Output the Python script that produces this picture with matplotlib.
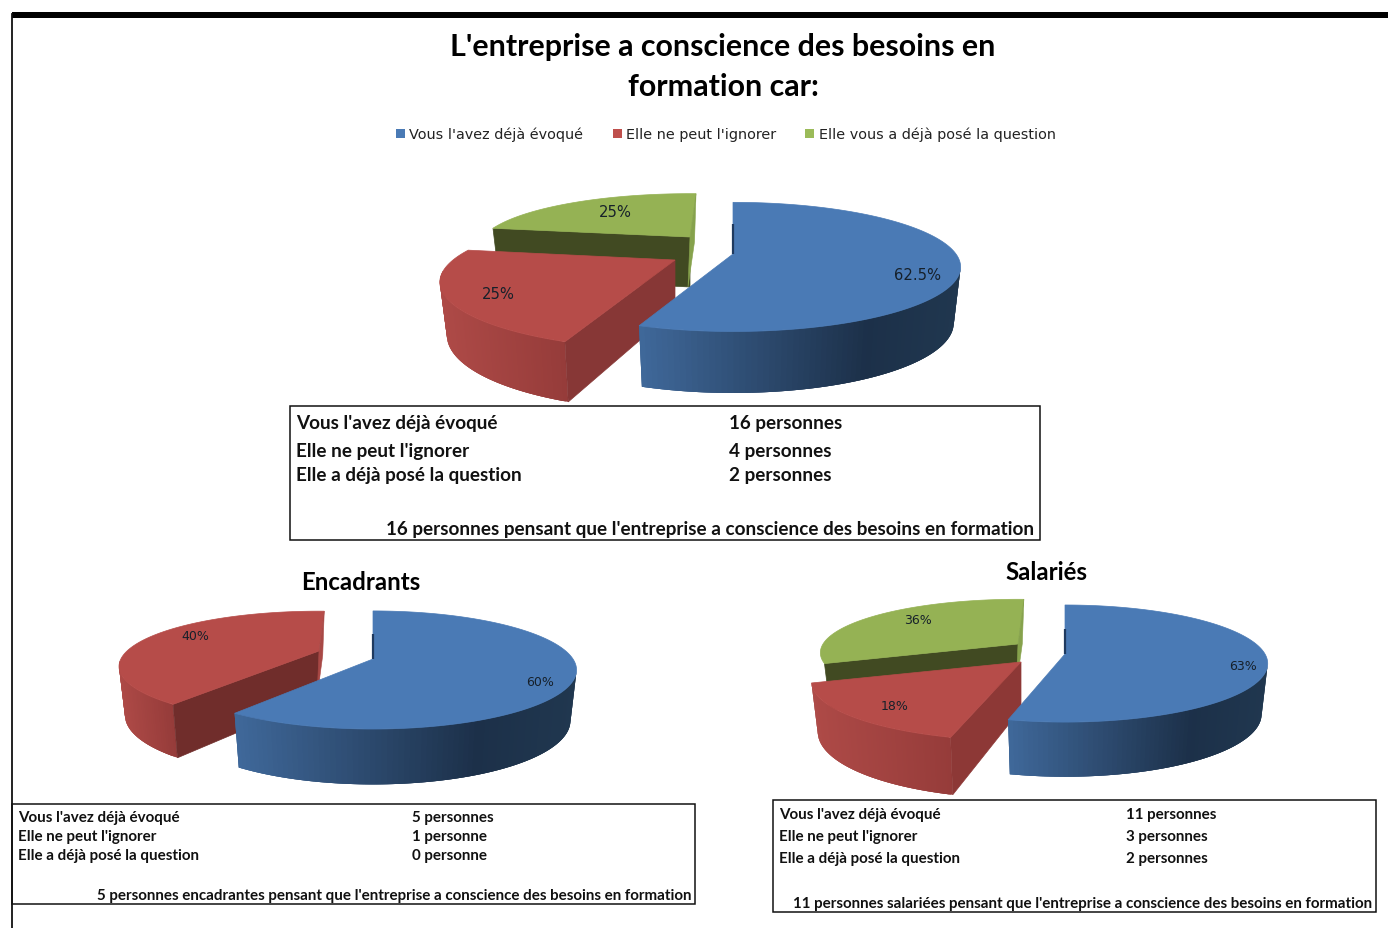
import numpy as np
import matplotlib
matplotlib.use("Agg")
import matplotlib.pyplot as plt
from matplotlib.patches import Polygon, Rectangle
from matplotlib.colors import to_rgb

# --- data
title_lines = ["L'entreprise a conscience des besoins en", "formation car:"]
legend_names = ["Vous l'avez déjà évoqué", "Elle ne peut l'ignorer", "Elle vous a déjà posé la question"]

total_values = [62.5, 25, 25]
total_labels = ["62.5%", "25%", "25%"]
cadres_values = [60, 40]
cadres_labels = ["60%", "40%"]
salaries_values = [63, 18, 36]
salaries_labels = ["63%", "18%", "36%"]

row_names = ["Vous l'avez déjà évoqué", "Elle ne peut l'ignorer", "Elle a déjà posé la question"]
total_counts = ["16 personnes", "4 personnes", "2 personnes"]
cadres_counts = ["5 personnes", "1 personne", "0 personne"]
salaries_counts = ["11 personnes", "3 personnes", "2 personnes"]
total_note = "16 personnes pensant que l'entreprise a conscience des besoins en formation"
cadres_note = "5 personnes encadrantes pensant que l'entreprise a conscience des besoins en formation"
salaries_note = "11 personnes salariées pensant que l'entreprise a conscience des besoins en formation"

# --- colours
BLUE, RED, GREEN = "#4a7ab5", "#b64c49", "#95b254"
SWATCH = [BLUE, "#bf4f4c", "#9bbb59"]
BLUE_WALL = [(0, "#40699b"), (0.72, "#1c3049"), (1, "#20374f")]
RED_WALL = [(0, "#ae4a47"), (1, "#963c3a")]

HEAD = "Lato"
BODY = "DejaVu Sans"

fig = plt.figure(figsize=(13.88, 9.29), dpi=100)
ax = fig.add_axes([0, 0, 1, 1])
ax.set_xlim(0, 1388)
ax.set_ylim(929, 0)
ax.axis("off")


def ramp(stops, f):
    xs = [s[0] for s in stops]
    cols = np.array([to_rgb(s[1]) for s in stops])
    return [np.interp(f, xs, cols[:, i]) for i in range(3)]


def project(t, r, sl, z=0.0):
    # t is the angle clockwise from 12 o'clock, in degrees
    u = r * np.sin(np.radians(t))
    v = r * np.cos(np.radians(t))
    w = 1 + sl["k"] * v
    x = sl["x"] + sl["rx"] * u / w
    y = sl["y"] - sl["ry"] * v / w
    if z:
        x = x - (x - sl["x"]) * sl.get("taper", 0.03)
        y = y + sl["d"] * np.sqrt(1 / w)
    return x, y


def draw_slice(sl, t0, t1):
    ts = np.linspace(t0, t1, 160)
    # outer wall, only the part that faces us. quads overlap the next one so no seams show
    vis = ts[(ts > 100) & (ts < 260)]
    if len(vis) > 1 and "wall" in sl:
        xs = project(vis, 1, sl)[0]
        lo, hi = xs.min(), xs.max()
        for i in range(len(vis) - 1):
            a, b = vis[i], vis[min(i + 3, len(vis) - 1)]
            xa, ya = project(a, 1, sl)
            xb, yb = project(b, 1, sl)
            xc, yc = project(b, 1, sl, 1)
            xd, yd = project(a, 1, sl, 1)
            f = (xa - lo) / (hi - lo)
            c = ramp(sl["wall"], f)
            ax.add_patch(Polygon([(xa, ya), (xb, yb), (xc, yc), (xd, yd)], closed=True,
                                 facecolor=c, edgecolor="none", lw=0))
    # the flat cut face
    col = sl.get("cut_start")
    if col is not None:
        pts = [project(t0, 1, sl), project(t0, 0, sl), project(t0, 0, sl, 1), project(t0, 1, sl, 1)]
        ax.add_patch(Polygon(pts, closed=True, facecolor=col, edgecolor=col, lw=0.5))
    # top face
    top = [project(t, 1, sl) for t in ts] + [project(0, 0, sl)]
    ax.add_patch(Polygon(top, closed=True, facecolor=sl["top"], edgecolor=sl["top"], lw=0.5))
    if "sliver" in sl:
        # thin face standing on the 12 o'clock edge
        col, wide = sl["sliver"]
        p, q = project(t1 if t1 > 300 else t0, 1, sl), project(0, 0, sl)
        if t1 > 300:
            r = (q[0] - 2, q[1] + sl["d"])
            s = (p[0] - 1.5, p[1] + wide)
            ax.add_patch(Polygon([p, q, r, s], closed=True, facecolor=col, edgecolor=col, lw=0.4))
        else:
            ax.plot([q[0], p[0]], [q[1], q[1] - wide], color=col, lw=1.6, solid_capstyle="butt")


def draw_pie(values, labels, slices, label_pos, font=10.5):
    shares = np.array(values, dtype=float) / sum(values) * 360
    edges = np.concatenate([[0], np.cumsum(shares)])
    # back slices first, first series on top
    for i in range(len(values) - 1, -1, -1):
        sl = slices[i]
        draw_slice(sl, edges[i], edges[i + 1] + sl.get("lean", 0))
    for lab, pos in zip(labels, label_pos):
        ax.text(pos[0], pos[1], lab, ha="center", va="center", fontsize=font,
                color="#16202a", family=BODY)


def draw_table(box, names, counts, note, name_x, count_x, row_y, note_xy, size):
    ax.add_patch(Rectangle((box[0], box[1]), box[2], box[3], fill=False, edgecolor="#111111", lw=1.1))
    for name, count, y in zip(names, counts, row_y):
        ax.text(name_x, y, name, fontsize=size, fontweight="bold", family=HEAD, va="center", color="#111111")
        ax.text(count_x, y, count, fontsize=size, fontweight="bold", family=HEAD, va="center", color="#111111")
    ax.text(note_xy[0], note_xy[1], note, fontsize=size, fontweight="bold", family=HEAD,
            va="center", ha="right", color="#111111")


# page rules
ax.add_patch(Rectangle((12, 13), 1376, 5.5, facecolor="black", edgecolor="none"))
ax.plot([12, 12], [15, 929], color="#111111", lw=1.3)

# title and legend
ax.text(723, 47, title_lines[0], fontsize=21.85, fontweight="bold", family=HEAD, ha="center", va="center", color="black")
ax.text(723, 87, title_lines[1], fontsize=21.85, fontweight="bold", family=HEAD, ha="center", va="center", color="black")
for name, col, sx, tx in zip(legend_names, SWATCH, [396, 613, 805], [409, 626, 819]):
    ax.add_patch(Rectangle((sx, 130), 9, 9, facecolor=col, edgecolor="none"))
    ax.text(tx, 135, name, fontsize=10.4, family=BODY, va="center", color="#222222")

# main pie
draw_pie(total_values, total_labels, [
    dict(x=733, y=255, rx=223, ry=62, k=0.2, d=55, top=BLUE, wall=BLUE_WALL, sliver=("#1f3a5f", 30)),
    dict(x=675, y=261, rx=222, ry=60, k=0.33, d=50, top=RED, wall=RED_WALL, cut_start="#873736"),
    dict(x=690, y=238, rx=207, ry=52, k=0.2, d=50, top=GREEN, cut_start="#414a22",
         sliver=("#86a24c", 48), lean=2),
], [(918, 275), (498, 294), (615, 212)], 10.6)
draw_table((290, 407, 750, 134), row_names, total_counts, total_note, 296, 729, [424, 451, 476], (1034, 529), 13.55)

# cadres
ax.text(361, 583, "Encadrants", fontsize=17.3, fontweight="bold", family=HEAD, ha="center", va="center", color="black")
draw_pie(cadres_values, cadres_labels, [
    dict(x=373, y=660, rx=200, ry=57, k=0.186, d=50, top=BLUE, wall=BLUE_WALL, sliver=("#1f3a5f", 25)),
    dict(x=319, y=652, rx=192, ry=51, k=0.28, d=47, top=RED, wall=RED_WALL, cut_start="#702d2b",
         sliver=("#a84845", 44), lean=2),
], [(540, 682), (195, 636)], 9)
draw_table((12, 805, 683, 100), row_names, cadres_counts, cadres_note, 18, 412, [818, 837, 856], (692, 896), 10.9)

# salaries
ax.text(1046, 573, "Salariés", fontsize=17.3, fontweight="bold", family=HEAD, ha="center", va="center", color="black")
draw_pie(salaries_values, salaries_labels, [
    dict(x=1065, y=655, rx=200, ry=57, k=0.163, d=50, top=BLUE, wall=BLUE_WALL, sliver=("#1f3a5f", 25)),
    dict(x=1021, y=663, rx=197, ry=52, k=0.34, d=47, top=RED, wall=RED_WALL, cut_start="#8d3836"),
    dict(x=1018, y=645, rx=195, ry=52, k=0.163, d=45, top=GREEN, cut_start="#414a22",
         sliver=("#86a24c", 44), lean=2),
], [(1243, 666), (895, 707), (918, 620)], 9)
draw_table((773, 801, 603, 112), row_names, salaries_counts, salaries_note, 779, 1126, [815, 837, 859], (1372, 904), 10.9)

fig.savefig("out.png", dpi=100)
